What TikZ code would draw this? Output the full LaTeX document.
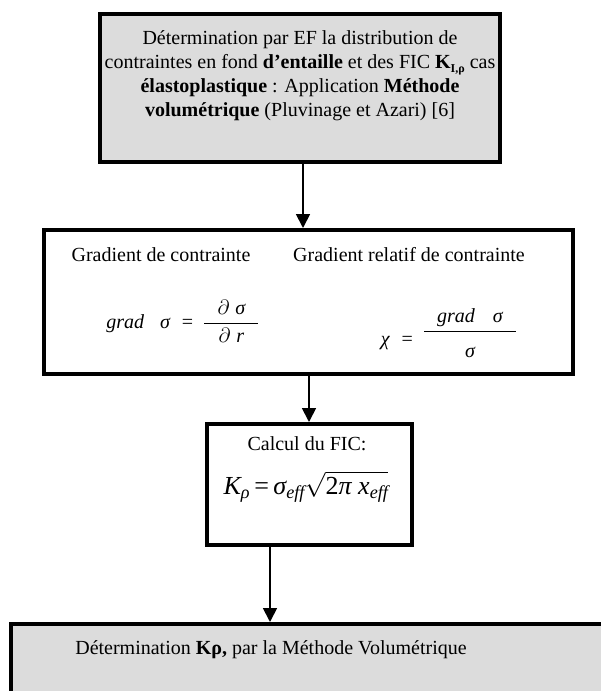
\documentclass[tikz,border=0pt]{standalone}
\usepackage{amsmath}
\usepackage{fontspec}
\setmainfont{Liberation Serif}
\usetikzlibrary{arrows.meta}
\definecolor{boxgray}{RGB}{220,220,220}
\begin{document}
\begin{tikzpicture}[x=1pt,y=-1pt,
  gbox/.style={draw=black,line width=4pt,fill=boxgray,inner sep=0pt},
  wbox/.style={draw=black,line width=4pt,fill=white,inner sep=0pt},
  txt/.style={inner sep=0pt,font=\fontsize{20}{24}\selectfont,align=center},
  frm/.style={inner sep=0pt,font=\fontsize{20}{24}\selectfont},
  arr/.style={line width=1.8pt,-{Triangle[width=14pt,length=14pt]}}]
\useasboundingbox (0,0) rectangle (600,691);
% boxes
\node[gbox,minimum width=400pt,minimum height=148pt] (b1) at (300,88) {};
\node[wbox,minimum width=529pt,minimum height=143.5pt] (b2) at (308.5,301.75) {};
\node[wbox,minimum width=205pt,minimum height=121pt] (b3) at (309.5,484.5) {};
\node[gbox,minimum width=609.5pt,minimum height=96pt] (b4) at (315.25,672) {};
% texts
\node[txt] (t1) at (300,76) {Détermination par EF la distribution de\\
contraintes en fond \textbf{d’entaille} et des FIC \textbf{K}\raisebox{-0.35ex}{\fontsize{12}{12}\selectfont\textbf{I,ρ}} cas\\
\textbf{élastoplastique} : Application \textbf{Méthode}\\
\textbf{volumétrique} (Pluvinage et Azari) [6]};
\node[txt] (t2a) at (161,255) {Gradient de contrainte};
\node[txt] (t2b) at (409,255) {Gradient relatif de contrainte};
\node[frm] (f1) at (183,321) {\itshape grad\hspace{16pt}σ\hspace{12pt}\upshape=\hspace{10pt}$\dfrac{\makebox[54pt]{$\partial$\hspace{6pt}\itshape σ}}{\makebox[28pt]{$\partial$\hspace{6pt}\itshape r}}$};
\node[frm] (f2) at (449,333) {\raisebox{-9pt}{\itshape χ\hspace{12pt}\upshape=}\hspace{10pt}$\dfrac{\makebox[92pt]{\itshape grad\hspace{18pt}σ}}{\rule{0pt}{23pt}\text{\itshape σ}}$};
\node[txt] (t3) at (307,444) {Calcul du FIC:};
\node[inner sep=0pt,font=\fontsize{26}{30}\selectfont] (f3) at (306,487) {\itshape K\textsubscript{ρ}\upshape\,=\,\itshape σ\textsubscript{eff}$\sqrt{\smash[b]{\text{\upshape 2\itshape π x\textsubscript{eff}}}}$};
\node[txt] (t4) at (271,650) {Détermination \textbf{Kρ,} par la Méthode Volumétrique};
% connectors
\coordinate (a1) at (303,0);
\coordinate (a2) at (309,0);
\coordinate (a3) at (270,0);
\draw[arr] (b1.south -| a1) -- (b2.north -| a1);
\draw[arr] (b2.south -| a2) -- (b3.north -| a2);
\draw[arr] (b3.south -| a3) -- (b4.north -| a3);
\end{tikzpicture}
\end{document}
